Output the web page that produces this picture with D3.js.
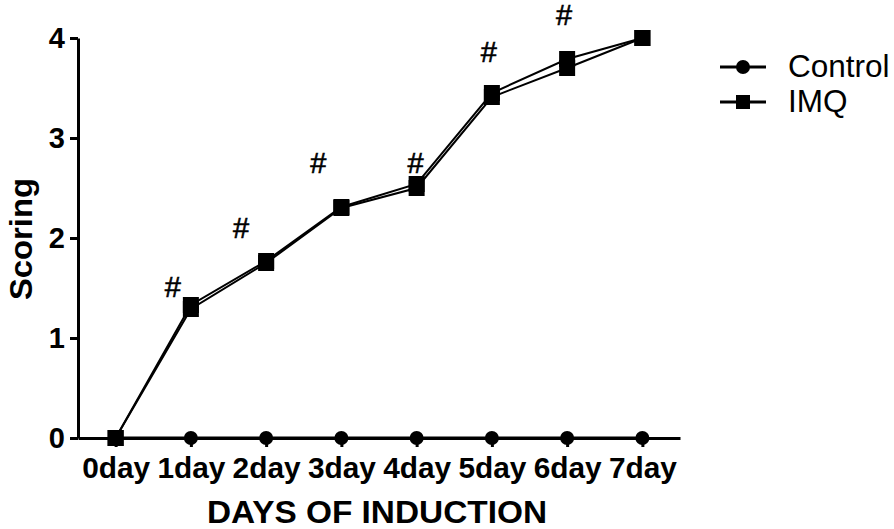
<!DOCTYPE html>
<html>
<head>
<meta charset="utf-8">
<script src="https://cdn.jsdelivr.net/npm/d3@7"></script>
<style>
  body { margin: 0; background: #fff; }
  text { font-family: Arial, "Liberation Sans", sans-serif; }
</style>
</head>
<body>
<div id="chart"></div>
<script>
// chart data
const days = ["0day", "1day", "2day", "3day", "4day", "5day", "6day", "7day"];
const control = [0, 0, 0, 0, 0, 0, 0, 0];
const imqUpper = [0, 1.33, 1.77, 2.31, 2.54, 3.45, 3.79, 4];
const imqLower = [0, 1.29, 1.75, 2.30, 2.50, 3.41, 3.70, 4];
const hashDays = ["1day", "2day", "3day", "4day", "5day", "6day"];
const hashLevel = [1.51, 2.10, 2.75, 2.75, 3.86, 4.23];
const yTicks = [0, 1, 2, 3, 4];

const width = 894, height = 529;
const plotLeft = 78, plotRight = 680, plotTop = 38, plotBottom = 438;

const svg = d3.select("#chart").append("svg")
  .attr("width", width)
  .attr("height", height);

// scales
const x = d3.scalePoint().domain(days).range([plotLeft, plotRight]).padding(0.5);
const y = d3.scaleLinear().domain([0, 4]).range([plotBottom, plotTop]);

// y axis
const yAxis = svg.append("g")
  .attr("transform", `translate(${plotLeft},0)`)
  .call(d3.axisLeft(y).tickValues(yTicks).tickFormat(d3.format("d"))
    .tickSize(8).tickSizeOuter(0).tickPadding(5));
yAxis.select(".domain").attr("stroke-width", 3);
yAxis.selectAll(".tick line").attr("stroke-width", 3);
yAxis.selectAll(".tick text")
  .attr("font-size", 29).attr("font-weight", "bold").attr("fill", "#000");

// x axis along zero
const xAxis = svg.append("g")
  .attr("transform", `translate(0,${plotBottom})`)
  .call(d3.axisBottom(x).tickSize(9).tickSizeOuter(0).tickPadding(10));
xAxis.select(".domain").attr("stroke-width", 3);
xAxis.selectAll(".tick line").attr("stroke-width", 3);
xAxis.selectAll(".tick text")
  .attr("font-size", 30).attr("font-weight", "bold").attr("fill", "#000")
  .attr("textLength", 68).attr("lengthAdjust", "spacingAndGlyphs");

// axis titles
svg.append("text")
  .attr("x", 377).attr("y", 523)
  .attr("text-anchor", "middle")
  .attr("font-size", 32).attr("font-weight", "bold")
  .attr("textLength", 340).attr("lengthAdjust", "spacingAndGlyphs")
  .text("DAYS OF INDUCTION");

svg.append("text")
  .attr("transform", `translate(32,239) rotate(-90)`)
  .attr("text-anchor", "middle")
  .attr("font-size", 32).attr("font-weight", "bold")
  .attr("textLength", 122).attr("lengthAdjust", "spacingAndGlyphs")
  .text("Scoring");

// lines
const line = d3.line().x((d, i) => x(days[i])).y(d => y(d));

svg.append("path").datum(control)
  .attr("d", line).attr("fill", "none").attr("stroke", "#000").attr("stroke-width", 3);

[imqUpper, imqLower].forEach(s => {
  svg.append("path").datum(s)
    .attr("d", line).attr("fill", "none").attr("stroke", "#000").attr("stroke-width", 2);
});

// markers
svg.selectAll(".ctrl").data(control).enter().append("circle")
  .attr("class", "ctrl")
  .attr("cx", (d, i) => x(days[i])).attr("cy", d => y(d))
  .attr("r", 7).attr("fill", "#000");

[imqUpper, imqLower].forEach(s => {
  svg.selectAll(null).data(s).enter().append("rect")
    .attr("x", (d, i) => x(days[i]) - 8).attr("y", d => y(d) - 8)
    .attr("width", 16).attr("height", 16).attr("fill", "#000");
});

// significance marks
const hashShift = { "1day": -18, "2day": -25, "3day": -23, "4day": -1, "5day": -3, "6day": -3 };
svg.selectAll(".hash").data(hashDays).enter().append("text")
  .attr("class", "hash")
  .attr("x", d => x(d) + hashShift[d])
  .attr("y", (d, i) => y(hashLevel[i]) + 10)
  .attr("text-anchor", "middle")
  .attr("font-size", 29)
  .attr("stroke", "#000").attr("stroke-width", 0.6)
  .text("#");

// legend
const legend = svg.append("g").attr("transform", "translate(720,0)");
const items = [{ name: "Control", shape: "circle", yy: 67 }, { name: "IMQ", shape: "square", yy: 102 }];
items.forEach(it => {
  legend.append("line")
    .attr("x1", 0).attr("x2", 46).attr("y1", it.yy).attr("y2", it.yy)
    .attr("stroke", "#000").attr("stroke-width", 3);
  if (it.shape === "circle") {
    legend.append("circle").attr("cx", 23).attr("cy", it.yy).attr("r", 7).attr("fill", "#000");
  } else {
    legend.append("rect").attr("x", 16).attr("y", it.yy - 7).attr("width", 14).attr("height", 14).attr("fill", "#000");
  }
  legend.append("text")
    .attr("x", 68).attr("y", it.yy + 10)
    .attr("font-size", 31.5)
    .text(it.name);
});
</script>
</body>
</html>
